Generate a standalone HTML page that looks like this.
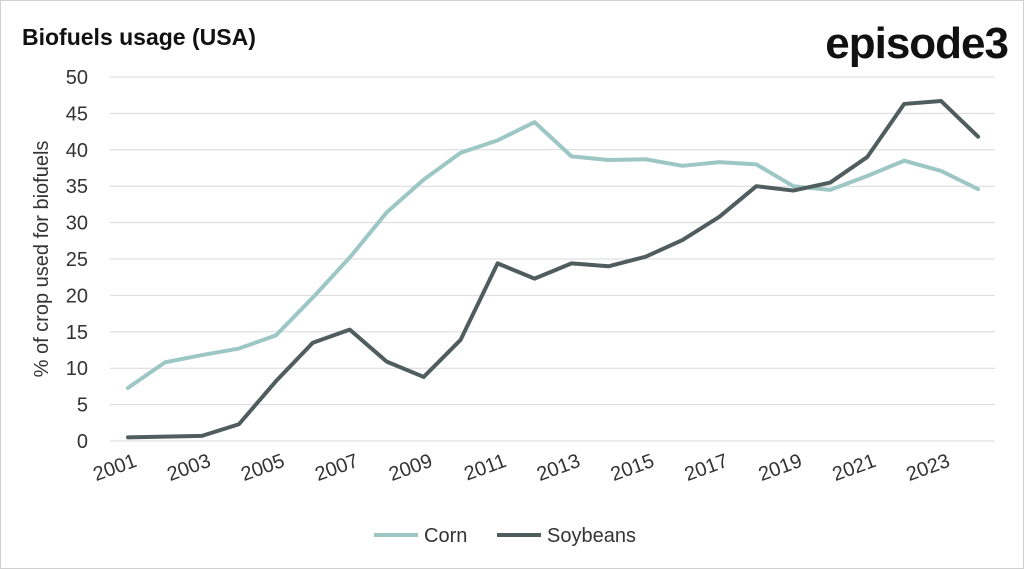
<!DOCTYPE html>
<html><head><meta charset="utf-8"><style>
body{margin:0;background:#fff;font-family:"Liberation Sans",sans-serif}
svg{display:block}
</style></head><body>
<svg width="1024" height="569" xmlns="http://www.w3.org/2000/svg">
<rect x="0.5" y="0.5" width="1023" height="568" fill="#fff" stroke="#d0d0d0"/>
<text x="22" y="45" font-size="23" font-weight="bold" fill="#111">Biofuels usage (USA)</text>
<text x="1008" y="58" text-anchor="end" font-size="44" font-weight="bold" fill="#111" letter-spacing="-1">episode3</text>
<g id="grid"></g><g id="yt"></g><g id="xt"></g><g id="lines"></g>
<text transform="translate(48,259) rotate(-90)" text-anchor="middle" font-size="20" fill="#333">% of crop used for biofuels</text>
<line x1="374" y1="535" x2="418" y2="535" stroke="#9cc7c5" stroke-width="4"/>
<text x="424" y="542" font-size="20" fill="#333">Corn</text>
<line x1="497" y1="535" x2="541" y2="535" stroke="#4f5d5e" stroke-width="4"/>
<text x="547" y="542" font-size="20" fill="#333">Soybeans</text>
</svg>
<script>
const years=[2001,2002,2003,2004,2005,2006,2007,2008,2009,2010,2011,2012,2013,2014,2015,2016,2017,2018,2019,2020,2021,2022,2023,2024];
const corn=[7.3,10.8,11.8,12.7,14.5,19.7,25.2,31.4,35.9,39.6,41.3,43.8,39.1,38.6,38.7,37.8,38.3,38.0,35.0,34.5,36.4,38.5,37.1,34.6];
const soybeans=[0.5,0.6,0.7,2.3,8.2,13.5,15.3,10.9,8.8,13.9,24.4,22.3,24.4,24.0,25.3,27.6,30.8,35.0,34.4,35.5,39.0,46.3,46.7,41.8];
const yTicks=[0,5,10,15,20,25,30,35,40,45,50];
const xLabels=[2001,2003,2005,2007,2009,2011,2013,2015,2017,2019,2021,2023];
const NS="http://www.w3.org/2000/svg";
const X=y=>128+(y-2001)*36.96, Y=v=>441-v*7.28;
function mk(p,t,a){const e=document.createElementNS(NS,t);for(const k in a)e.setAttribute(k,a[k]);document.getElementById(p).appendChild(e);return e;}
yTicks.forEach(v=>{
 const l=mk('grid','line',{x1:110,x2:995,y1:Y(v),y2:Y(v),stroke:'#d9d9d9','stroke-width':1});
 
 
 const t=mk('yt','text',{x:88,y:Y(v)+7,'text-anchor':'end','font-size':20,fill:'#333'});t.textContent=v;
 
 
});
xLabels.forEach(yr=>{
 const t=mk('xt','text',{transform:`translate(${X(yr)+10},${466}) rotate(-20)`,'text-anchor':'end','font-size':20,fill:'#333'});t.textContent=yr;
 
 
});
[[corn,'#9cc7c5','corn-line'],[soybeans,'#4f5d5e','soybeans-line']].forEach(([d,c,n])=>{
 const p=mk('lines','polyline',{points:d.map((v,i)=>X(years[i])+','+Y(v)).join(' '),fill:'none',stroke:c,'stroke-width':4,'stroke-linejoin':'round','stroke-linecap':'round'});
 
 
});
</script>
</body></html>
